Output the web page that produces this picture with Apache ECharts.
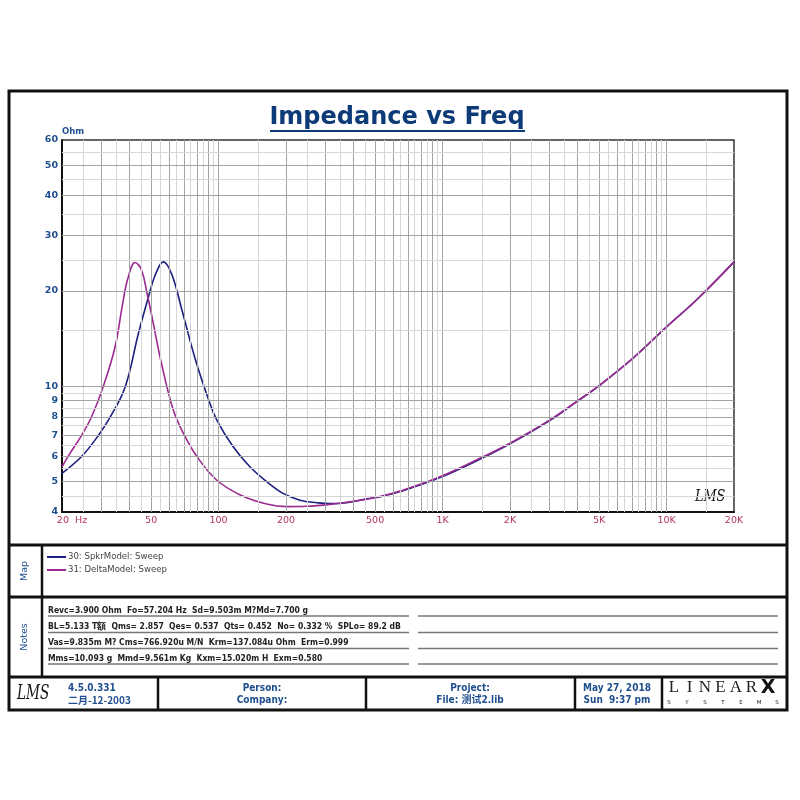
<!DOCTYPE html>
<html>
<head>
<meta charset="utf-8">
<title>Impedance vs Freq</title>
<script src="https://cdn.jsdelivr.net/npm/echarts@6/dist/echarts.min.js"></script>
<style>
  html, body { margin: 0; padding: 0; background: #fff; }
  #main { width: 800px; height: 800px; }
</style>
</head>
<body>
<div id="main"></div>
<script>
// 30: SpkrModel: Sweep  (Hz, Ohm)
var spkrFreq = [20, 24.4, 28.5, 32.7, 38.2, 43.9, 48.7, 52.2, 56.7, 61.9, 68.6, 78.9, 90.3, 98.1, 116, 138, 164, 194, 231, 275, 314, 373, 459, 526, 646, 974, 1516, 2000, 3018, 3970, 5044, 7080, 10000, 13630, 20000];
var spkrOhm  = [5.30, 5.98, 6.85, 7.95, 9.9, 14.7, 19.2, 22.5, 24.7, 22.5, 17.4, 12.1, 9.05, 7.82, 6.44, 5.56, 4.99, 4.58, 4.36, 4.28, 4.25, 4.28, 4.40, 4.47, 4.64, 5.14, 5.94, 6.57, 7.80, 8.93, 10.08, 12.25, 15.4, 18.75, 24.7];

// 31: DeltaModel: Sweep
var deltaFreq = [20, 21.3, 24.5, 27.1, 30.6, 34.5, 37.2, 39.3, 42.4, 45.3, 47.9, 50.4, 55.9, 62.8, 69.6, 79.9, 98, 125, 164, 201, 247, 325, 414, 526, 646, 974, 1516, 2000, 3018, 3970, 5044, 7080, 10000, 13630, 20000];
var deltaOhm  = [5.56, 6.0, 7.0, 8.0, 10.0, 13.3, 18.0, 21.8, 24.6, 23.3, 19.7, 16.6, 11.6, 8.4, 7.1, 6.0, 5.05, 4.53, 4.24, 4.16, 4.17, 4.24, 4.34, 4.48, 4.66, 5.17, 5.98, 6.60, 7.82, 8.94, 10.09, 12.26, 15.4, 18.75, 24.7];

// tick labels
var xTickVals = [20, 50, 100, 200, 500, 1000, 2000, 5000, 10000, 20000];
var xTickText = ['20  Hz', '50', '100', '200', '500', '1K', '2K', '5K', '10K', '20K'];
var yTickVals = [4, 5, 6, 7, 8, 9, 10, 20, 30, 40, 50, 60];
var yTickText = ['4', '5', '6', '7', '8', '9', '10', '20', '30', '40', '50', '60'];

var seriesNames = ['30: SpkrModel: Sweep', '31: DeltaModel: Sweep'];

var notes = [
  'Revc=3.900 Ohm  Fo=57.204 Hz  Sd=9.503m M?Md=7.700 g',
  'BL=5.133 T額  Qms= 2.857  Qes= 0.537  Qts= 0.452  No= 0.332 %  SPLo= 89.2 dB',
  'Vas=9.835m M? Cms=766.920u M/N  Krm=137.084u Ohm  Erm=0.999',
  'Mms=10.093 g  Mmd=9.561m Kg  Kxm=15.020m H  Exm=0.580'
];

var ink = '#1f4f8f';
var narrow = "'DejaVu Sans Condensed', 'Liberation Sans Narrow', 'DejaVu Sans', sans-serif";
var clear = 'rgba(0,0,0,0)';

// log grid: dark at k*10^n, light at (k+.5)*10^n
var steps = [1, 2, 3, 4, 5, 6, 7, 8, 9];
function gridValues(decades, lo, hi) {
  var out = [];
  decades.forEach(function (d) {
    steps.forEach(function (k) {
      if (k * d > lo && k * d < hi) out.push({ v: k * d, major: true });
      if ((k + 0.5) * d > lo && (k + 0.5) * d < hi) out.push({ v: (k + 0.5) * d, major: false });
    });
  });
  return out;
}

var marks = [];
gridValues([10, 100, 1000, 10000], 20, 20000).forEach(function (g) {
  marks.push({ xAxis: g.v, lineStyle: { color: g.major ? '#a3a3a3' : '#d6d6d6', width: 1, type: 'solid' } });
});
gridValues([1, 10], 4, 60).forEach(function (g) {
  marks.push({ yAxis: g.v, lineStyle: { color: g.major ? '#a3a3a3' : '#d6d6d6', width: 1, type: 'solid' } });
});
xTickVals.forEach(function (v, i) {
  marks.push({
    xAxis: v, lineStyle: { color: clear, width: 0 },
    label: {
      show: true, position: 'start', distance: 4, formatter: xTickText[i],
      color: '#b23363', fontSize: 9.5, fontFamily: 'DejaVu Sans', opacity: 1,
      padding: i === 0 ? [0, 0, 0, 20] : 0
    }
  });
});
yTickVals.forEach(function (v, i) {
  marks.push({
    yAxis: v, lineStyle: { color: clear, width: 0 },
    label: {
      show: true, position: 'start', distance: 4, formatter: yTickText[i], opacity: 1,
      color: ink, fontSize: 9.5, fontWeight: 'bold', fontFamily: 'DejaVu Sans'
    }
  });
});

function pairs(fs, zs) {
  return fs.map(function (f, i) { return [f, zs[i]]; });
}

function txt(x, y, text, opt) {
  opt = opt || {};
  return {
    type: 'text', x: x, y: y, rotation: opt.rotation || 0, scaleX: opt.sx || 1,
    style: {
      text: text, fill: opt.fill || ink,
      fontSize: opt.size || 10, fontWeight: opt.weight || 'bold',
      fontStyle: opt.style || 'normal',
      fontFamily: opt.family || narrow,
      align: opt.align || 'left', verticalAlign: opt.valign || 'middle'
    }
  };
}
function line(x1, y1, x2, y2, w, c) {
  return { type: 'line', shape: { x1: x1, y1: y1, x2: x2, y2: y2 }, style: { stroke: c || '#111', lineWidth: w } };
}

var graphics = [
  { type: 'rect', shape: { x: 9, y: 91, width: 778, height: 619 }, style: { fill: 'none', stroke: '#111', lineWidth: 3 } },
  line(9, 545, 787, 545, 3),
  line(9, 597, 787, 597, 3),
  line(9, 677, 787, 677, 3),
  line(42, 545, 42, 677, 2.5),
  line(158, 677, 158, 710, 2.5),
  line(366, 677, 366, 710, 2.5),
  line(575, 677, 575, 710, 2.5),
  line(662, 677, 662, 710, 2.5),
  // title
  txt(397, 118, 'Impedance vs Freq', { size: 24, family: 'DejaVu Sans', fill: '#0d3b78', align: 'center' }),
  line(270, 131, 525, 131, 2, '#0d3b78'),
  // side labels
  txt(25, 571, 'Map', { size: 9.5, weight: 'normal', family: 'DejaVu Sans', align: 'center', rotation: Math.PI / 2 }),
  txt(25, 637, 'Notes', { size: 9.5, weight: 'normal', family: 'DejaVu Sans', align: 'center', rotation: Math.PI / 2 }),
  // plot watermark
  txt(695, 497, 'LMS', { size: 16, weight: 'normal', style: 'italic', family: 'DejaVu Serif', fill: '#111', sx: 0.8 }),
  // footer
  txt(17, 694, 'LMS', { size: 21, weight: 'normal', style: 'italic', family: 'DejaVu Serif', fill: '#111', sx: 0.65 }),
  txt(68, 688, '4.5.0.331'),
  txt(68, 700, '二月-12-2003', { family: "'Noto Sans CJK SC', sans-serif" }),
  txt(262, 688, 'Person:', { align: 'center' }),
  txt(262, 700, 'Company:', { align: 'center' }),
  txt(470, 688, 'Project:', { align: 'center' }),
  txt(470, 700, 'File: 测试2.lib', { align: 'center', family: "'DejaVu Sans Condensed', 'Noto Sans CJK SC', sans-serif" }),
  txt(617, 688, 'May 27, 2018', { align: 'center' }),
  txt(617, 700, 'Sun  9:37 pm', { align: 'center' }),
  txt(768, 688, 'X', { size: 19, family: 'DejaVu Sans', fill: '#111', align: 'center' })
];
'LINEAR'.split('').forEach(function (ch, i) {
  graphics.push(txt(674 + i * 15.5, 688, ch, { size: 17, weight: 'normal', family: "'Liberation Serif', serif", fill: '#222', align: 'center' }));
});
'SYSTEMS'.split('').forEach(function (ch, i) {
  graphics.push(txt(669 + i * 18, 703, ch, { size: 5.5, weight: 'normal', family: 'DejaVu Sans', fill: '#222', align: 'center' }));
});
var noteY = [616, 632.5, 648.5, 664];
notes.forEach(function (t, i) {
  graphics.push(line(48, noteY[i], 409, noteY[i], 1.3, '#777'));
  graphics.push(line(418, noteY[i], 778, noteY[i], 1.3, '#777'));
  graphics.push(txt(48, noteY[i] - 1, t, { size: 8.5, fill: '#222', valign: 'bottom' }));
});

var myChart = echarts.init(document.getElementById('main'));
var option = {
  backgroundColor: '#fff',
  animation: false,
  grid: { left: 62, top: 140, width: 672, height: 372, show: true, borderColor: '#333', borderWidth: 1.5 },
  legend: {
    data: seriesNames, orient: 'vertical', left: 47, top: 552, padding: 0,
    icon: 'rect', itemWidth: 19, itemHeight: 2, itemGap: 3,
    textStyle: { fontSize: 9.5, color: '#444', fontFamily: narrow, padding: [0, 0, 0, -3] }
  },
  xAxis: {
    type: 'log', logBase: 10, min: 20, max: 20000,
    axisLine: { show: true, lineStyle: { color: '#111', width: 2 } },
    axisTick: { show: false }, axisLabel: { show: false }, splitLine: { show: false }
  },
  yAxis: {
    type: 'log', logBase: 10, min: 4, max: 60,
    name: 'Ohm', nameLocation: 'end', nameGap: 4,
    nameTextStyle: { align: 'left', verticalAlign: 'bottom', color: ink, fontSize: 8.5, fontWeight: 'bold', fontFamily: 'DejaVu Sans' },
    axisLine: { show: true, lineStyle: { color: '#111', width: 2 } },
    axisTick: { show: false }, axisLabel: { show: false }, splitLine: { show: false }
  },
  series: [
    {
      name: 'grid', type: 'line', data: [], silent: true,
      markLine: { silent: true, symbol: ['none', 'none'], label: { show: false }, data: marks }
    },
    {
      name: seriesNames[0], type: 'line', data: pairs(spkrFreq, spkrOhm),
      symbol: 'none', smooth: 0.4,
      lineStyle: { color: '#1c1f7e', width: 1.6 }, itemStyle: { color: '#1c1f7e' }
    },
    {
      name: seriesNames[1], type: 'line', data: pairs(deltaFreq, deltaOhm),
      symbol: 'none', smooth: 0.4,
      lineStyle: { color: '#9c2a92', width: 1.6 }, itemStyle: { color: '#9c2a92' }
    }
  ],
  graphic: graphics
};
myChart.setOption(option);
</script>
</body>
</html>
